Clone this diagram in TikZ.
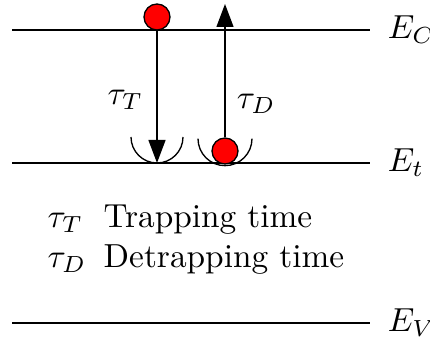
\documentclass[tikz,border=0pt]{standalone}
\usepackage{tikz}
\usetikzlibrary{arrows.meta,positioning}
\usepackage{xcolor}
\usepackage{amsmath}
\definecolor{CarrierRed}{HTML}{FF0000}

\begin{document}
\begin{tikzpicture}[x=0.3pt,y=-0.3pt,node distance=1.8pt]
  \useasboundingbox (0,0) rectangle (430,345);
  % band edges and trap level
  \coordinate (cl) at (12,30);  \coordinate (cr) at (370,30);
  \coordinate (tl) at (12,163); \coordinate (tr) at (370,163);
  \coordinate (vl) at (12,323); \coordinate (vr) at (370,323);
  \draw[line width=0.85pt] (cl)--(cr);
  \draw[line width=0.85pt] (tl)--(tr);
  \draw[line width=0.85pt] (vl)--(vr);
  \node[right=of cr] (ec) {$E_C$};
  \node[right=of tr] (et) {$E_t$};
  \node[right=of vr] (ev) {$E_V$};
  % carriers
  \node[circle,draw,fill=CarrierRed,minimum size=7.8pt,inner sep=0pt] (e1) at (157,17) {};
  \node[circle,draw,fill=CarrierRed,minimum size=7.8pt,inner sep=0pt] (e2) at (225,151) {};
  \coordinate (trapEnd) at (157,163);
  \coordinate (detrapEnd) at (225,4);
  \draw[-{Triangle[length=6.9pt,width=5.1pt]}] (e1)--(trapEnd) node[pos=0.52,left=0.6pt] (tauT) {$\tau_T$};
  \draw[-{Triangle[length=6.9pt,width=5.1pt]}] (e2)--(detrapEnd) node[pos=0.25,right=0pt] (tauD) {$\tau_D$};
  % potential wells
  \draw (trapEnd) ++(-26,-26) arc[start angle=180,end angle=0,radius=26];
  \draw (e2.south) ++(-27,-26) arc[start angle=180,end angle=0,radius=27];
  % legend
  \node[anchor=west,inner sep=0pt] (legend) at (47,240) {\begin{tabular}{@{}l@{\hspace{5.2pt}}l@{}}
      $\tau_T$ & Trapping time\\
      $\tau_D$ & Detrapping time
    \end{tabular}};
\end{tikzpicture}
\end{document}
